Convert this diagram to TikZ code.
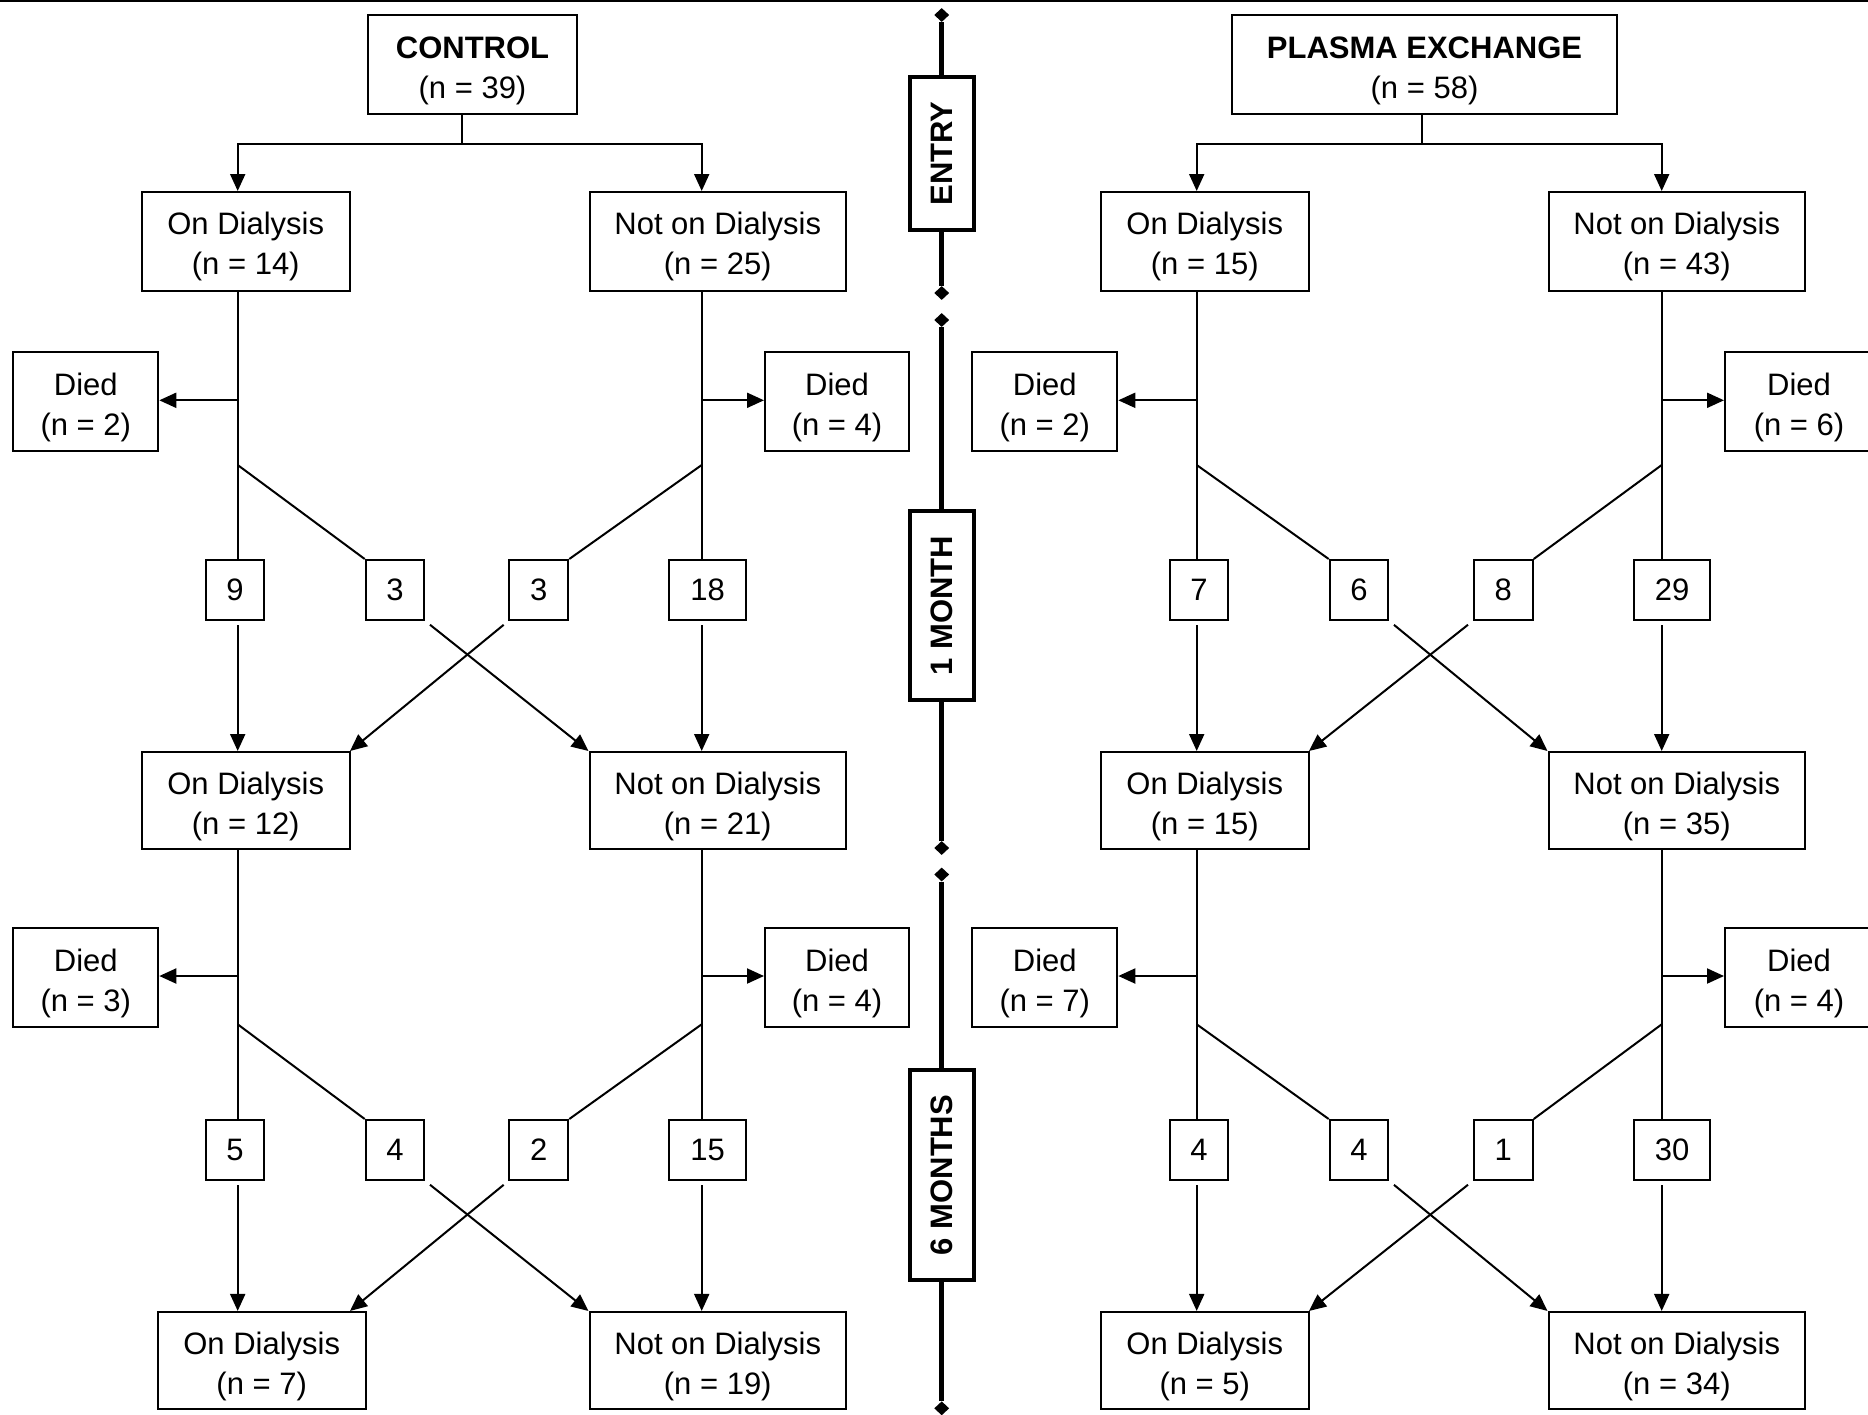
\documentclass[tikz,border=0pt]{standalone}
\usepackage{fontspec}
\setmainfont{Liberation Sans}
\usetikzlibrary{arrows.meta,shapes.geometric}
% connectors of one level of one arm: #1 prefix, #2 level, #3 next level,
% #4 x of left column, #5 x of right column, #6 y of died arrows, #7 y of diagonal start
\newcommand\lvlconn[7]{%
  \coordinate (#1A#2) at (#4,#6);
  \coordinate (#1B#2) at (#5,#6);
  \coordinate (#1P#2) at (#4,#7);
  \coordinate (#1Q#2) at (#5,#7);
  \coordinate (#1X#2) at ({#4+112.3},0);
  \draw[ln] (#1on#2.south -| #1A#2) -- (#1a#2.north -| #1A#2);
  \draw[arr] (#1A#2) -- (#1A#2 -| #1dl#2.east);
  \draw[ln] (#1P#2) -- (#1b#2.north west);
  \draw[arr,shorten <=4pt] (#1a#2.south -| #1A#2) -- (#1on#3.north -| #1A#2);
  \draw[arr,shorten <=6pt] (#1b#2.south east) -- (#1not#3.north west);
  \draw[ln] (#1not#2.south -| #1B#2) -- (#1d#2.north -| #1B#2);
  \draw[arr] (#1B#2) -- (#1B#2 -| #1dr#2.west);
  \draw[ln] (#1Q#2) -- (#1c#2.north east);
  \draw[arr,shorten <=4pt] (#1d#2.south -| #1B#2) -- (#1not#3.north -| #1B#2);
  \draw[arr,shorten <=6pt] (#1c#2.south west) -- (#1on#3.north -| #1X#2);
}
\begin{document}
\begin{tikzpicture}[x=1pt,y=-1pt,
  font=\fontsize{31pt}{40pt}\selectfont,
  bx/.style n args={2}{draw,line width=2pt,inner sep=0pt,align=center,
    text height=72pt,text depth=5pt,minimum width=#1,minimum height=#2},
  nbox/.style={draw,line width=2pt,inner sep=0pt,minimum height=60pt,minimum width=#1},
  ln/.style={line width=2pt},
  arr/.style={line width=2pt,-{Triangle[length=17pt,width=15pt]}},
  tl/.style={line width=4.5pt},
  tlbox/.style={draw,line width=4pt,rotate=90,inner sep=0pt,
    font=\fontsize{31pt}{40pt}\selectfont\bfseries,minimum height=64pt,minimum width=#1},
  dia/.style={diamond,fill=black,inner sep=0pt,minimum width=15pt,minimum height=14pt}]
\useasboundingbox (0,0) rectangle (1868,1414);
\draw[line width=2pt] (0,1) -- (1868,1);

% ---------------- CONTROL arm ----------------
\node[bx={209pt}{99pt}] (chd) at (472.5,64.5) {\textbf{CONTROL}\\(n = 39)};
\node[bx={208.5pt}{98.7pt}] (con1) at (245.75,241.35) {On Dialysis\\(n = 14)};
\node[bx={256.5pt}{98.7pt}] (cnot1) at (717.75,241.35) {Not on Dialysis\\(n = 25)};
\node[bx={145pt}{98.4pt}] (cdl1) at (85.8,401.5) {Died\\(n = 2)};
\node[bx={144pt}{98.4pt}] (cdr1) at (837,401.5) {Died\\(n = 4)};
\node[nbox=58.6pt] (ca1) at (235,590) {9};
\node[nbox=58.6pt] (cb1) at (395,590) {3};
\node[nbox=59pt] (cc1) at (538.8,590) {3};
\node[nbox=76.7pt] (cd1) at (707.7,590) {18};
\node[bx={208.5pt}{97.4pt}] (con2) at (245.75,800.7) {On Dialysis\\(n = 12)};
\node[bx={256.5pt}{97.4pt}] (cnot2) at (717.75,800.7) {Not on Dialysis\\(n = 21)};
\node[bx={145pt}{98.4pt}] (cdl2) at (85.8,977.5) {Died\\(n = 3)};
\node[bx={144pt}{98.4pt}] (cdr2) at (837,977.5) {Died\\(n = 4)};
\node[nbox=58.6pt] (ca2) at (235,1150) {5};
\node[nbox=58.6pt] (cb2) at (395,1150) {4};
\node[nbox=59pt] (cc2) at (538.8,1150) {2};
\node[nbox=76.7pt] (cd2) at (707.7,1150) {15};
\node[bx={208pt}{97.3pt}] (con3) at (261.7,1360.6) {On Dialysis\\(n = 7)};
\node[bx={256.5pt}{97.3pt}] (cnot3) at (717.75,1360.6) {Not on Dialysis\\(n = 19)};

\coordinate (cj) at (462,144);
\coordinate (cA0) at (237.7,144);
\coordinate (cB0) at (701.7,144);
\draw[ln] (chd.south -| cj) -- (cj);
\draw[arr] (cj) -- (cA0) -- (cA0 |- con1.north);
\draw[arr] (cj) -- (cB0) -- (cB0 |- cnot1.north);
\lvlconn{c}{1}{2}{237.7}{701.7}{400.3}{465}
\lvlconn{c}{2}{3}{237.7}{701.7}{976}{1024.3}

% ---------------- PLASMA EXCHANGE arm ----------------
\node[bx={384.4pt}{99pt}] (phd) at (1424.5,64.5) {\textbf{PLASMA EXCHANGE}\\(n = 58)};
\node[bx={208.5pt}{98.7pt}] (pon1) at (1204.75,241.35) {On Dialysis\\(n = 15)};
\node[bx={256.5pt}{98.7pt}] (pnot1) at (1676.75,241.35) {Not on Dialysis\\(n = 43)};
\node[bx={145pt}{98.4pt}] (pdl1) at (1044.8,401.5) {Died\\(n = 2)};
\node[bx={148pt}{98.4pt}] (pdr1) at (1799,401.5) {Died\\(n = 6)};
\node[nbox=58.6pt] (pa1) at (1199,590) {7};
\node[nbox=58.6pt] (pb1) at (1359,590) {6};
\node[nbox=59pt] (pc1) at (1503.2,590) {8};
\node[nbox=76.7pt] (pd1) at (1672,590) {29};
\node[bx={208.5pt}{97.4pt}] (pon2) at (1204.75,800.7) {On Dialysis\\(n = 15)};
\node[bx={256.5pt}{97.4pt}] (pnot2) at (1676.75,800.7) {Not on Dialysis\\(n = 35)};
\node[bx={145pt}{98.4pt}] (pdl2) at (1044.8,977.5) {Died\\(n = 7)};
\node[bx={148pt}{98.4pt}] (pdr2) at (1799,977.5) {Died\\(n = 4)};
\node[nbox=58.6pt] (pa2) at (1199,1150) {4};
\node[nbox=58.6pt] (pb2) at (1359,1150) {4};
\node[nbox=59pt] (pc2) at (1503.2,1150) {1};
\node[nbox=76.7pt] (pd2) at (1672,1150) {30};
\node[bx={208.5pt}{97.3pt}] (pon3) at (1204.75,1360.6) {On Dialysis\\(n = 5)};
\node[bx={256.5pt}{97.3pt}] (pnot3) at (1676.75,1360.6) {Not on Dialysis\\(n = 34)};

\coordinate (pj) at (1421.7,144);
\coordinate (pA0) at (1196.7,144);
\coordinate (pB0) at (1661.7,144);
\draw[ln] (phd.south -| pj) -- (pj);
\draw[arr] (pj) -- (pA0) -- (pA0 |- pon1.north);
\draw[arr] (pj) -- (pB0) -- (pB0 |- pnot1.north);
\lvlconn{p}{1}{2}{1196.7}{1661.7}{400.3}{465}
\lvlconn{p}{2}{3}{1196.7}{1661.7}{976}{1024.3}

% ---------------- time line ----------------
\node[dia] (t1) at (941.7,15) {};
\node[dia] (t2) at (941.7,293) {};
\node[dia] (t3) at (941.7,320) {};
\node[dia] (t4) at (941.7,848) {};
\node[dia] (t5) at (941.7,874.5) {};
\node[dia] (t6) at (941.7,1408.3) {};
\node[tlbox=153pt] (tentry) at (941.7,153.5) {ENTRY};
\node[tlbox=189pt] (tmonth) at (941.7,605.4) {1 MONTH};
\node[tlbox=210pt] (tsix) at (941.7,1175) {6 MONTHS};
\draw[tl] (t1) -- (tentry);
\draw[tl] (tentry) -- (t2);
\draw[tl] (t3) -- (tmonth);
\draw[tl] (tmonth) -- (t4);
\draw[tl] (t5) -- (tsix);
\draw[tl] (tsix) -- (t6);
\end{tikzpicture}
\end{document}
